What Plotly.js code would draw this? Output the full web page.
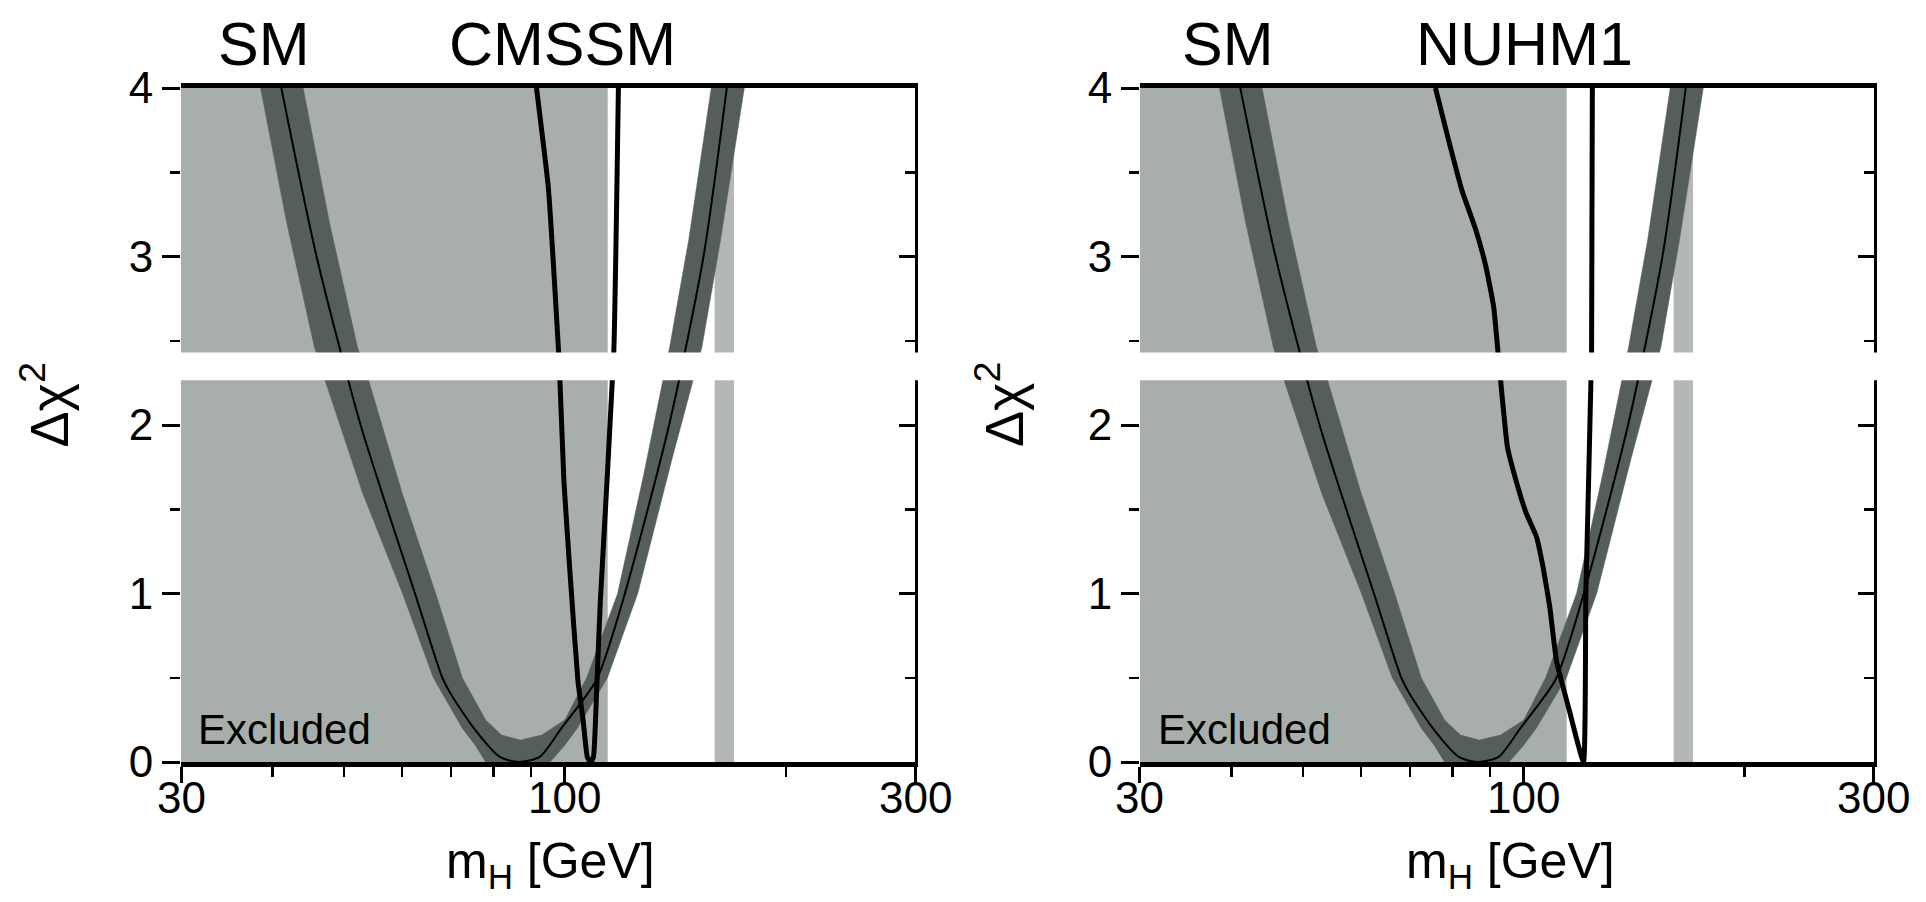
<!DOCTYPE html>
<html>
<head>
<meta charset="utf-8">
<script src="https://cdn.plot.ly/plotly-3.0.1.min.js"></script>
<style>
  html, body { margin: 0; padding: 0; background: #ffffff; }
  #chart { width: 1926px; height: 902px; }
</style>
</head>
<body>
<div id="chart"></div>
<script>
// ---------------- data ----------------
// Excluded (LEP) region and Tevatron-excluded band, m_H in GeV
const excludedRange = [30, 114.4];
const tevatronRange = [160, 170];

// SM fit: central black line
const smCentralX = [41.1, 45.9, 52.7, 62.5, 68.1, 69.8, 75.2, 81.6, 86.5, 92.4, 98.9, 110.5, 120.0, 138.7, 154.5, 166.2];
const smCentralY = [4, 3, 2, 1, 0.5, 0.41, 0.2, 0.03, 0, 0.03, 0.2, 0.49, 0.96, 2, 3, 4];

// SM theory band: outer and inner boundaries
const smOuterX = [38.5, 41.8, 45.6, 47.1, 53.0, 60.1, 66.2, 72.5, 75.5, 78.0, 86.5, 95.5, 100.0, 104.0, 114.3, 125.7, 140.0, 153.7, 163.0, 175.6];
const smOuterY = [4, 3.2, 2.46, 2.27, 1.6, 1, 0.5, 0.2, 0.1, 0, 0, 0, 0.1, 0.2, 0.5, 1, 1.8, 2.46, 3.1, 4];
const smInnerX = [44.0, 47.8, 52.2, 54.0, 60.0, 66.7, 72.5, 78.0, 82.0, 87.0, 93.0, 100.0, 107.1, 118.0, 128.0, 138.9, 147.5, 158.3];
const smInnerY = [4, 3.2, 2.46, 2.27, 1.6, 1, 0.5, 0.25, 0.16, 0.13, 0.16, 0.25, 0.5, 1, 1.7, 2.46, 3.1, 4];

// CMSSM prediction
const cmssmX = [91.5, 95.0, 98.3, 99.7, 101.8, 104.2, 105.9, 107.3, 108.4, 109.4, 110.6, 111.8, 116.6, 118.3];
const cmssmY = [4, 3.4, 2.35, 1.67, 1.08, 0.48, 0.25, 0.03, 0, 0.03, 0.47, 0.96, 2.43, 4];

// NUHM1 prediction
const nuhmX = [75.8, 79.0, 82.4, 86.0, 88.8, 91.0, 92.6, 95.0, 97.6, 100.7, 104.0, 106.2, 108.5, 110.8, 115.3, 120.6, 121.5, 123.7, 124.0];
const nuhmY = [4, 3.69, 3.39, 3.16, 2.94, 2.70, 2.35, 1.87, 1.67, 1.48, 1.34, 1.16, 0.92, 0.6, 0.31, 0, 1.0, 2.43, 4];

// axis ticks
const xTickVals = [30, 100, 300];
const xTickText = ['30', '100', '300'];
const xMinorVals = [40, 50, 60, 70, 80, 90, 200];
const yTickVals = [0, 1, 2, 3, 4];
const yTickText = ['0', '1', '2', '3', '4'];
const yRange = [0, 4];
const xRange = [30, 300];
const breakRange = [2.265, 2.43];

const panelTitles = [['SM', 'CMSSM'], ['SM', 'NUHM1']];

// ---------------- styling ----------------
const FONT = 'Liberation Sans, Arial, Helvetica, sans-serif';
const C_EXCL = '#a8aeac';
const C_TEV = '#b3b7b5';
const C_BAND = '#555e5b';

function rectTrace(r, color, xa, ya) {
  return {
    x: [r[0], r[1], r[1], r[0], r[0]],
    y: [yRange[0], yRange[0], yRange[1], yRange[1], yRange[0]],
    xaxis: xa, yaxis: ya, mode: 'lines', fill: 'toself',
    fillcolor: color, line: { width: 0, color: color },
    hoverinfo: 'skip', showlegend: false
  };
}

function panelTraces(xa, ya, ya2, modelX, modelY) {
  const bandX = smOuterX.concat(smInnerX.slice().reverse());
  const bandY = smOuterY.concat(smInnerY.slice().reverse());
  return [
    rectTrace(excludedRange, C_EXCL, xa, ya),
    rectTrace(tevatronRange, C_TEV, xa, ya),
    {
      x: bandX, y: bandY, xaxis: xa, yaxis: ya, mode: 'lines', fill: 'toself',
      fillcolor: C_BAND, line: { width: 0.5, color: C_BAND },
      hoverinfo: 'skip', showlegend: false
    },
    {
      x: smCentralX, y: smCentralY, xaxis: xa, yaxis: ya, mode: 'lines',
      line: { color: '#000000', width: 2, shape: 'spline', smoothing: 0.7 },
      showlegend: false
    },
    {
      x: modelX, y: modelY, xaxis: xa, yaxis: ya, mode: 'lines',
      line: { color: '#000000', width: 5, shape: 'spline', smoothing: 0.4 },
      showlegend: false
    },
    { x: [], y: [], xaxis: xa, yaxis: ya2, mode: 'lines', showlegend: false }
  ];
}

const traces = [].concat(
  panelTraces('x', 'y', 'y3', cmssmX, cmssmY),
  panelTraces('x2', 'y2', 'y4', nuhmX, nuhmY)
);

const W = 1926, H = 902;
const mL = 180.6, mR = W - 1874.4, mT = 88, mB = H - 762;
const plotW = W - mL - mR;
const leftDomain = [0, 734.4 / plotW];
const rightDomain = [(1140 - mL) / plotW, 1];

function xAxis(domain, anchor) {
  return {
    domain: domain, anchor: anchor, type: 'log',
    range: [Math.log10(xRange[0]), Math.log10(xRange[1])],
    tickmode: 'array', tickvals: xTickVals, ticktext: xTickText,
    showticklabels: false,
    ticks: 'outside', ticklen: 16, tickwidth: 3, tickcolor: '#000',
    minor: { tickmode: 'array', tickvals: xMinorVals, ticks: 'outside', ticklen: 10, tickwidth: 2.5, tickcolor: '#000', showgrid: false },
    showline: true, linewidth: 5, linecolor: '#000', mirror: true,
    showgrid: false, zeroline: false
  };
}
function yAxis(anchor) {
  return {
    anchor: anchor, domain: [0, 1], range: yRange,
    tickmode: 'array', tickvals: yTickVals, ticktext: yTickText,
    ticks: 'outside', ticklen: 18, tickwidth: 3, tickcolor: '#000',
    minor: { dtick: 0.5, ticks: 'outside', ticklen: 10, tickwidth: 2.5, tickcolor: '#000', showgrid: false },
    showline: false, showgrid: false, zeroline: false,
    tickfont: { family: FONT, size: 44, color: '#000' }
  };
}
function yAxisRight(anchor, over) {
  return {
    anchor: anchor, overlaying: over, side: 'right', range: yRange,
    tickmode: 'array', tickvals: yTickVals,
    ticks: 'inside', ticklen: 16, tickwidth: 3, tickcolor: '#000',
    minor: { dtick: 0.5, ticks: 'inside', ticklen: 10, tickwidth: 2.5, tickcolor: '#000', showgrid: false },
    showticklabels: false, showline: true, linewidth: 3, linecolor: '#000',
    showgrid: false, zeroline: false
  };
}

function px2paperX(px) { return (px - mL) / plotW; }
function px2paperY(py) { return (762 - py) / (762 - 88); }

const annotations = [];
function txt(text, px, py, size, extra) {
  annotations.push(Object.assign({
    text: text, xref: 'paper', yref: 'paper', x: px2paperX(px), y: px2paperY(py),
    xanchor: 'center', yanchor: 'middle', showarrow: false,
    font: { family: FONT, size: size, color: '#000' }
  }, extra || {}));
}
// x tick labels placed on the log axes (annotation x is log10 on log axes)
['x', 'x2'].forEach(function (xr) {
  xTickVals.forEach(function (v, i) {
    annotations.push({
      text: xTickText[i], xref: xr, yref: 'paper', x: Math.log10(v), y: px2paperY(797),
      xanchor: 'center', yanchor: 'middle', showarrow: false,
      font: { family: FONT, size: 44, color: '#000' }
    });
  });
});
// panel headings
txt(panelTitles[0][0], 264, 44, 61);
txt(panelTitles[0][1], 562, 44, 61);
txt(panelTitles[1][0], 1228, 44, 61);
txt(panelTitles[1][1], 1525, 44, 61);
// x-axis titles
txt('m<sub>H</sub> [GeV]', 550, 864, 50);
txt('m<sub>H</sub> [GeV]', 1511, 864, 50);
// y-axis titles
txt('Δχ<sup>2</sup>', 45, 405, 54, { textangle: -90 });
txt('Δχ<sup>2</sup>', 1000, 405, 54, { textangle: -90 });
// Excluded labels
txt('Excluded', 196, 729, 42, { xanchor: 'left' });
txt('Excluded', 1156, 729, 42, { xanchor: 'left' });

// white horizontal break across each panel
const shapes = [
  { type: 'rect', xref: 'paper', yref: 'y', x0: leftDomain[0] - 0.01, x1: leftDomain[1] + 0.01,
    y0: breakRange[0], y1: breakRange[1], fillcolor: '#ffffff', line: { width: 0 }, layer: 'above' },
  { type: 'rect', xref: 'paper', yref: 'y2', x0: rightDomain[0] - 0.01, x1: rightDomain[1] + 0.01,
    y0: breakRange[0], y1: breakRange[1], fillcolor: '#ffffff', line: { width: 0 }, layer: 'above' }
];

const layout = {
  width: W, height: H,
  margin: { l: mL, r: mR, t: mT, b: mB, pad: 0 },
  paper_bgcolor: '#ffffff', plot_bgcolor: '#ffffff',
  showlegend: false,
  xaxis: xAxis(leftDomain, 'y'),
  yaxis: yAxis('x'),
  yaxis3: yAxisRight('x', 'y'),
  xaxis2: xAxis(rightDomain, 'y2'),
  yaxis2: yAxis('x2'),
  yaxis4: yAxisRight('x2', 'y2'),
  annotations: annotations,
  shapes: shapes,
  font: { family: FONT, color: '#000' }
};

Plotly.newPlot('chart', traces, layout, { displayModeBar: false, staticPlot: true });
</script>
</body>
</html>
